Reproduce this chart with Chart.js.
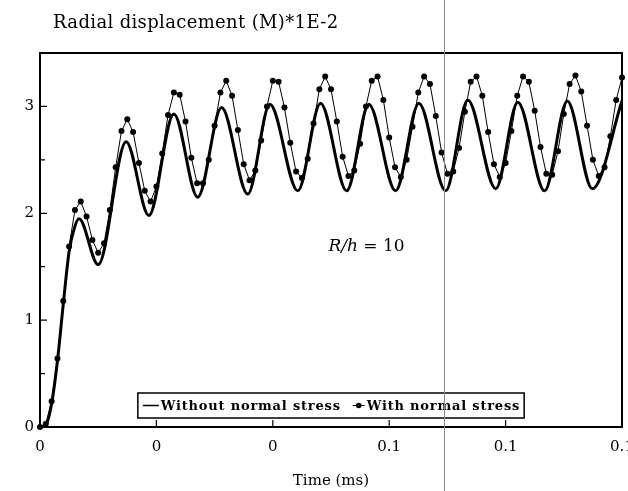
<!DOCTYPE html>
<html>
<head>
<meta charset="utf-8">
<script src="https://cdn.jsdelivr.net/npm/chart.js@4.4.1/dist/chart.umd.min.js"></script>
<style>
    html, body { margin: 0; padding: 0; background: #fff; }
    #wrap { position: relative; width: 628px; height: 491px; }
    /* thin grey scan line that crosses the original picture */
    #scanline { position: absolute; left: 444px; top: 0; width: 1px; height: 491px; background: #8c8c8c; }
</style>
</head>
<body>
<div id="wrap">
    <canvas id="grafico" width="628" height="491"></canvas>
    <div id="scanline"></div>
</div>
<script>
//--------------------------------------------------
// DADOS
//--------------------------------------------------
const stepMs = 0.001; // spacing of the markers on the "with" curve

const withStress = [
    0, 0.03, 0.24, 0.64, 1.18, 1.69, 2.03, 2.11, 1.97, 1.75,
    1.63, 1.72, 2.03, 2.43, 2.77, 2.88, 2.76, 2.47, 2.21, 2.11,
    2.25, 2.56, 2.92, 3.13, 3.11, 2.86, 2.52, 2.28, 2.28, 2.50,
    2.82, 3.13, 3.24, 3.10, 2.78, 2.46, 2.31, 2.40, 2.68, 3.00,
    3.24, 3.23, 2.99, 2.66, 2.39, 2.33, 2.51, 2.84, 3.16, 3.28,
    3.16, 2.86, 2.53, 2.35, 2.40, 2.65, 3.00, 3.24, 3.28, 3.06,
    2.71, 2.43, 2.34, 2.50, 2.81, 3.13, 3.28, 3.21, 2.91, 2.57,
    2.37, 2.39, 2.61, 2.95, 3.23, 3.28, 3.10, 2.76, 2.46, 2.34,
    2.47, 2.77, 3.10, 3.28, 3.23, 2.96, 2.62, 2.37, 2.36, 2.58,
    2.93, 3.21, 3.29, 3.14, 2.82, 2.50, 2.35, 2.43, 2.72, 3.06,
    3.27
];

// thick curve: start of the rise, then its peaks and troughs
const withoutTimes = [
    0, 0.001, 0.002, 0.003, 0.004, 0.005, 0.006, 0.0067, 0.0100, 0.0148,
    0.0187, 0.0230, 0.0271, 0.0312, 0.0357, 0.0395, 0.0443, 0.0482, 0.0527, 0.0565,
    0.0611, 0.0651, 0.0697, 0.0735, 0.0783, 0.0821, 0.0867, 0.0906, 0.0949, 0.1
];
const withoutValues = [
    0, 0.02, 0.22, 0.62, 1.15, 1.64, 1.88, 1.95, 1.52, 2.67,
    1.98, 2.93, 2.15, 2.99, 2.18, 3.02, 2.21, 3.03, 2.21, 3.02,
    2.21, 3.03, 2.21, 3.06, 2.23, 3.04, 2.21, 3.05, 2.23, 3.05
];

const seriesLabels = ["Without normal stress", "With normal stress"];
const xTickLabels = ["0", "0", "0", "0.1", "0.1", "0.1"];
const yTickLabels = ["0", "1", "2", "3"];
const yTitle = "Radial displacement (M)*1E-2";
const xTitle = "Time (ms)";
const noteText = ["R/h", " = 10"];
const notePos = { x: 0.0561, y: 1.69 };

const serif = "'DejaVu Serif', 'Liberation Serif', serif";

//--------------------------------------------------
// TEXTOS, MOLDURA, TICKS PARA DENTRO E LEGENDA
//--------------------------------------------------
const extras = {
    id: "extras",
    afterDraw(chart) {
        const { ctx, chartArea: a, scales } = chart;
        const x = scales.x, y = scales.y;
        ctx.save();
        ctx.strokeStyle = "#000";
        ctx.fillStyle = "#000";

        // frame
        ctx.lineWidth = 2;
        ctx.strokeRect(a.left, a.top, a.right - a.left, a.bottom - a.top);

        // inward ticks
        ctx.lineWidth = 1.2;
        ctx.beginPath();
        x.ticks.forEach(t => {
            const px = x.getPixelForValue(t.value);
            ctx.moveTo(px, a.bottom);
            ctx.lineTo(px, a.bottom - 7);
        });
        y.ticks.forEach(t => {
            const py = y.getPixelForValue(t.value);
            const len = Number.isInteger(t.value) ? 7 : 5;
            ctx.moveTo(a.left, py);
            ctx.lineTo(a.left + len, py);
        });
        ctx.stroke();

        // y title over the plot
        ctx.font = "18px " + serif;
        ctx.letterSpacing = "0.35px";
        ctx.textBaseline = "middle";
        ctx.textAlign = "left";
        ctx.fillText(yTitle, a.left + 13, 23);
        ctx.letterSpacing = "0px";

        // R/h = 10
        ctx.font = "italic 17px " + serif;
        const w1 = ctx.measureText(noteText[0]).width;
        ctx.font = "17px " + serif;
        const w2 = ctx.measureText(noteText[1]).width;
        const nx = x.getPixelForValue(notePos.x) - (w1 + w2) / 2;
        const ny = y.getPixelForValue(notePos.y);
        ctx.font = "italic 17px " + serif;
        ctx.fillText(noteText[0], nx, ny);
        ctx.font = "17px " + serif;
        ctx.fillText(noteText[1], nx + w1, ny);

        // legend box at the bottom of the plot
        ctx.font = "bold 13px " + serif;
        ctx.letterSpacing = "0.8px";
        const t1 = ctx.measureText(seriesLabels[0]).width;
        const t2 = ctx.measureText(seriesLabels[1]).width;
        const total = 5 + 16 + 2 + t1 + 12 + 12 + 2 + t2 + 4;
        const bx = (a.left + a.right) / 2 - total / 2;
        const bh = 25;
        const by = a.bottom - 9 - bh;
        const cy = by + bh / 2;
        ctx.fillStyle = "#fff";
        ctx.fillRect(bx, by, total, bh);
        ctx.lineWidth = 1.5;
        ctx.strokeRect(bx, by, total, bh);
        ctx.fillStyle = "#000";

        let cx = bx + 5;
        ctx.beginPath();
        ctx.moveTo(cx, cy);
        ctx.lineTo(cx + 16, cy);
        ctx.stroke();
        cx += 18;
        ctx.fillText(seriesLabels[0], cx, cy + 1);
        cx += t1 + 12;
        ctx.lineWidth = 1;
        ctx.beginPath();
        ctx.moveTo(cx, cy);
        ctx.lineTo(cx + 12, cy);
        ctx.stroke();
        ctx.beginPath();
        ctx.arc(cx + 6, cy, 2.8, 0, Math.PI * 2);
        ctx.fill();
        cx += 14;
        ctx.fillText(seriesLabels[1], cx, cy + 1);

        ctx.restore();
    }
};

//--------------------------------------------------
// GRÁFICO
//--------------------------------------------------
const withPoints = withStress.map((v, i) => ({ x: i * stepMs, y: v }));
const withoutPoints = withoutTimes.map((t, i) => ({ x: t, y: withoutValues[i] }));

new Chart(document.getElementById("grafico"), {
    type: "line",
    data: {
        datasets: [
            {
                label: seriesLabels[0],
                data: withoutPoints,
                borderColor: "#000",
                borderWidth: 3,
                pointRadius: 0,
                cubicInterpolationMode: "monotone",
                fill: false
            },
            {
                label: seriesLabels[1],
                data: withPoints,
                borderColor: "#000",
                borderWidth: 1,
                pointRadius: 3,
                pointBackgroundColor: "#000",
                pointBorderWidth: 0,
                tension: 0,
                fill: false,
                clip: 5
            }
        ]
    },
    options: {
        responsive: false,
        animation: false,
        devicePixelRatio: 1,
        layout: { padding: { top: 53, right: 6, left: 0, bottom: 0 } },
        plugins: {
            legend: { display: false },
            tooltip: { enabled: false },
            title: { display: false }
        },
        scales: {
            x: {
                type: "linear",
                min: 0,
                max: 0.1,
                grid: { display: false, drawTicks: false },
                border: { display: false },
                ticks: {
                    stepSize: 0.02,
                    padding: 11,
                    color: "#000",
                    maxRotation: 0,
                    autoSkip: false,
                    font: { family: serif, size: 15 },
                    callback: (v, i) => xTickLabels[i]
                },
                title: {
                    display: true,
                    text: xTitle,
                    color: "#000",
                    font: { family: serif, size: 15 },
                    padding: { top: 0, bottom: 1 }
                },
                afterFit: s => { s.height = 64; s.paddingLeft = 0; s.paddingRight = 0; }
            },
            y: {
                min: 0,
                max: 3.5,
                grid: { display: false, drawTicks: false },
                border: { display: false },
                ticks: {
                    stepSize: 0.5,
                    padding: 6,
                    color: "#000",
                    font: { family: serif, size: 15 },
                    callback: v => Number.isInteger(v) ? yTickLabels[v] : ""
                },
                afterFit: s => { s.width = 40; s.paddingTop = 0; s.paddingBottom = 0; }
            }
        }
    },
    plugins: [extras]
});
</script>
</body>
</html>
